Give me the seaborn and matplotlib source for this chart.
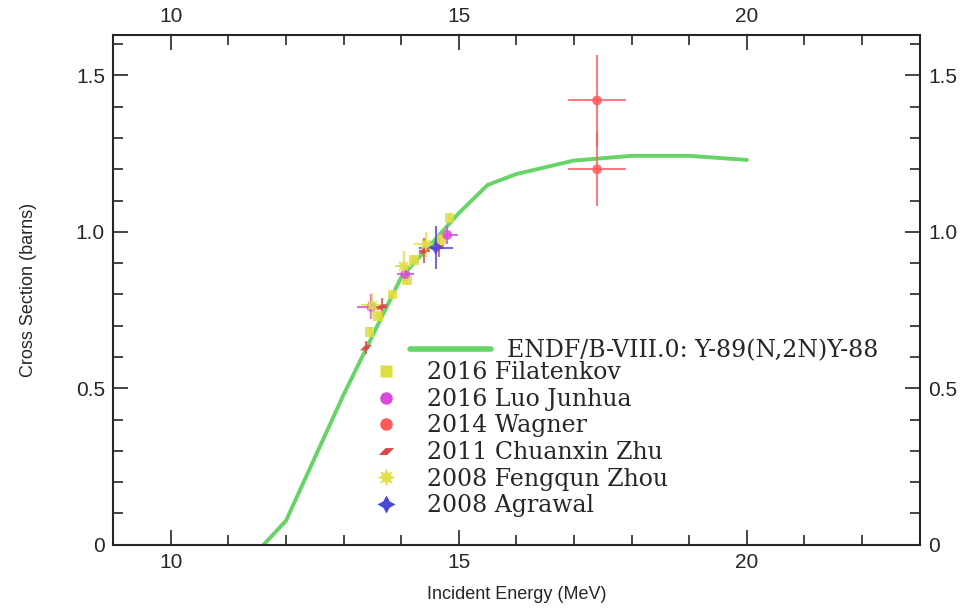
import matplotlib
matplotlib.use('Agg')
import matplotlib.pyplot as plt
import seaborn as sns
import pandas as pd
from matplotlib.lines import Line2D
from matplotlib.ticker import MultipleLocator

# ENDF/B-VIII.0 evaluation Y-89(n,2n)Y-88
endf_energy = [11.61, 12.0, 13.0, 14.0, 15.0, 15.5, 16.0, 17.0, 18.0, 19.0, 20.0]
endf_xs = [0.0, 0.077, 0.48, 0.855, 1.06, 1.15, 1.185, 1.228, 1.243, 1.243, 1.23]

# experimental data (energy, cross section, errors)
filatenkov_e = [13.45, 13.60, 13.85, 14.10, 14.22, 14.70, 14.84]
filatenkov_xs = [0.68, 0.73, 0.80, 0.845, 0.91, 0.977, 1.045]
filatenkov_ex = [0.05, 0.05, 0.05, 0.05, 0.05, 0.05, 0.05]
filatenkov_ey = [0.015, 0.015, 0.015, 0.015, 0.015, 0.015, 0.015]

luo_e = [13.48, 14.07, 14.80]
luo_xs = [0.76, 0.865, 0.99]
luo_ex = [0.25, 0.15, 0.18]
luo_ey = [0.04, 0.025, 0.03]

wagner_e = [17.4, 17.4]
wagner_xs = [1.42, 1.20]
wagner_ex = [0.5, 0.5]
wagner_ey = [0.145, 0.118]

zhu_e = [13.39, 13.66, 14.40, 14.65]
zhu_xs = [0.63, 0.76, 0.94, 0.95]
zhu_ex = [0.05, 0.1, 0.1, 0.1]
zhu_ey = [0.02, 0.03, 0.04, 0.03]

zhou_e = [13.50, 14.04, 14.43]
zhou_xs = [0.765, 0.89, 0.96]
zhou_ex = [0.2, 0.15, 0.2]
zhou_ey = [0.04, 0.05, 0.04]

agrawal_e = [14.60]
agrawal_xs = [0.95]
agrawal_ex = [0.3]
agrawal_ey = [0.07]

sns.set_style('ticks')
plt.rcParams['font.family'] = ['Liberation Sans', 'DejaVu Sans']

fig = plt.figure(figsize=(9.68, 6.10), dpi=100)
ax = fig.add_axes([0.117, 0.107, 0.833, 0.836])

parallelogram = [(-1, -0.45), (0.1, -0.45), (1, 0.45), (-0.1, 0.45), (-1, -0.45)]

series = [
    ('2016 Filatenkov', filatenkov_e, filatenkov_xs, filatenkov_ex, filatenkov_ey, '#dede40', 's', 7),
    ('2016 Luo Junhua', luo_e, luo_xs, luo_ex, luo_ey, '#d84ad8', 'o', 7),
    ('2014 Wagner', wagner_e, wagner_xs, wagner_ex, wagner_ey, '#ff5a5a', 'o', 7),
    ('2011 Chuanxin Zhu', zhu_e, zhu_xs, zhu_ex, zhu_ey, '#d84848', parallelogram, 9),
    ('2008 Fengqun Zhou', zhou_e, zhou_xs, zhou_ex, zhou_ey, '#e0e048', (8, 1, 0), 11),
    ('2008 Agrawal', agrawal_e, agrawal_xs, agrawal_ex, agrawal_ey, '#4848d8', (4, 1, 0), 11),
]

sns.lineplot(x=endf_energy, y=endf_xs, color='#66d466', lw=2.8, ax=ax, zorder=2)

handles = []
for label, e, xs, ex, ey, col, mk, ms in series:
    ax.errorbar(e, xs, xerr=ex, yerr=ey, fmt='none', ecolor=col, elinewidth=1.5,
                alpha=0.8, zorder=3)
    df = pd.DataFrame({'e': e, 'xs': xs})
    sns.scatterplot(data=df, x='e', y='xs', marker=mk, s=ms ** 2, color=col,
                    edgecolor='none', alpha=0.85, ax=ax, zorder=4)
    handles.append(Line2D([], [], ls='none', marker=mk, ms=ms + 2, color=col,
                          markeredgecolor='none', label=label))

ax.set_xlim(9.0, 23.0)
ax.set_ylim(0, 1.63)
ax.xaxis.set_major_locator(MultipleLocator(5))
ax.xaxis.set_minor_locator(MultipleLocator(1))
ax.yaxis.set_major_locator(MultipleLocator(0.5))
ax.yaxis.set_minor_locator(MultipleLocator(0.1))
ax.set_yticks([0, 0.5, 1.0, 1.5])
ax.set_yticklabels(['0', '0.5', '1.0', '1.5'])
ax.tick_params(which='both', direction='in', top=True, right=True,
               labeltop=True, labelright=True, width=1.2, labelsize=15, pad=6)
ax.tick_params(which='major', length=11)
ax.tick_params(which='minor', length=7)
for sp in ax.spines.values():
    sp.set_linewidth(1.5)

ax.set_xlabel('Incident Energy (MeV)', fontsize=13, labelpad=10)
ax.set_ylabel('Cross Section (barns)', fontsize=13, labelpad=28)

legend_font = {'family': 'DejaVu Serif', 'size': 17}
line_handle = Line2D([], [], color='#66d466', lw=4,
                     label='ENDF/B-VIII.0: Y-89(N,2N)Y-88')
leg1 = ax.legend(handles=[line_handle], loc='upper left', bbox_to_anchor=(0.342, 0.445),
                 frameon=False, handlelength=3.4, handletextpad=0.7, prop=legend_font)
ax.add_artist(leg1)
ax.legend(handles=handles, loc='upper left', bbox_to_anchor=(0.296, 0.392),
          frameon=False, handlelength=1.5, handletextpad=1.0, labelspacing=0.15,
          borderpad=0.2, prop=legend_font)

fig.savefig('out.png', dpi=100)
